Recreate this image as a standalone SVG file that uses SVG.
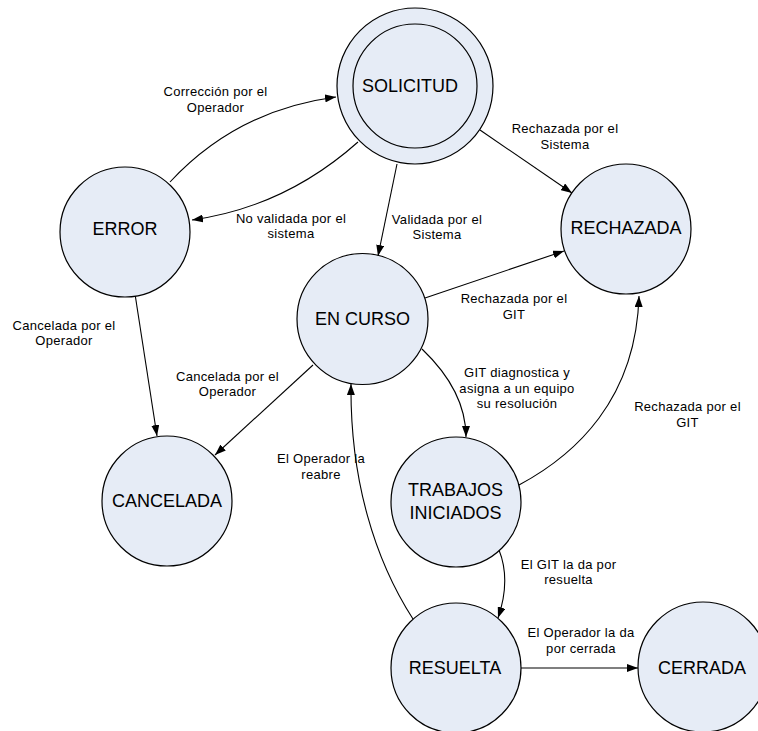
<svg xmlns="http://www.w3.org/2000/svg" width="758" height="731" viewBox="0 0 758 731">
  <defs>
    <marker id="arrow" markerWidth="11" markerHeight="8" refX="11" refY="4" orient="auto" markerUnits="userSpaceOnUse">
      <path d="M0,0 L11,4 L0,8 z" fill="#000"/>
    </marker>
    <style>
      .state { fill: #E6ECF6; stroke: #000; stroke-width: 1.2; }
      .name { font-family: "Liberation Sans", Arial, sans-serif; font-size: 18px; fill: #000; text-anchor: middle; }
      .lbl { font-family: "Liberation Sans", Arial, sans-serif; font-size: 13px; letter-spacing: 0.3px; fill: #000; text-anchor: middle; }
      .edge { fill: none; stroke: #000; stroke-width: 1.1; marker-end: url(#arrow); }
    </style>
  </defs>
  <rect width="758" height="731" fill="#fff"/>

  <!-- transitions -->
  <g id="connectors">
    <path class="edge" d="M170,182 Q237,110 336,97"/>
    <path class="edge" d="M358,142 Q285,207 192,220"/>
    <path class="edge" d="M397,164 L378,256"/>
    <path class="edge" d="M480,130 L572,193"/>
    <path class="edge" d="M425,298 L564,251"/>
    <path class="edge" d="M422,349 Q466,391 466,437"/>
    <path class="edge" d="M519,485 C575,455 636,400 639,296"/>
    <path class="edge" d="M313,365 L215,455"/>
    <path class="edge" d="M135,294 L157,436"/>
    <path class="edge" d="M413,619 C375,560 350,480 351,384"/>
    <path class="edge" d="M499,550 Q511,580 498,618"/>
    <path class="edge" d="M521,668 L638,668"/>

    <text class="lbl" x="215.5" y="96">Corrección por el</text>
    <text class="lbl" x="215.5" y="111.5">Operador</text>
    <text class="lbl" x="291" y="223">No validada por el</text>
    <text class="lbl" x="291" y="237.5">sistema</text>
    <text class="lbl" x="437" y="223.5">Validada por el</text>
    <text class="lbl" x="437" y="238.5">Sistema</text>
    <text class="lbl" x="565" y="133">Rechazada por el</text>
    <text class="lbl" x="565" y="149">Sistema</text>
    <text class="lbl" x="514" y="303">Rechazada por el</text>
    <text class="lbl" x="514" y="319">GIT</text>
    <text class="lbl" x="517" y="376.5">GIT diagnostica y</text>
    <text class="lbl" x="517" y="392.5">asigna a un equipo</text>
    <text class="lbl" x="517" y="408">su resolución</text>
    <text class="lbl" x="687.5" y="411">Rechazada por el</text>
    <text class="lbl" x="687.5" y="427">GIT</text>
    <text class="lbl" x="227.5" y="380.5">Cancelada por el</text>
    <text class="lbl" x="227.5" y="396">Operador</text>
    <text class="lbl" x="64" y="330">Cancelada por el</text>
    <text class="lbl" x="64" y="345">Operador</text>
    <text class="lbl" x="321" y="463">El Operador la</text>
    <text class="lbl" x="321" y="479">reabre</text>
    <text class="lbl" x="568.5" y="568.5">El GIT la da por</text>
    <text class="lbl" x="568.5" y="584">resuelta</text>
    <text class="lbl" x="581" y="637">El Operador la da</text>
    <text class="lbl" x="581" y="653">por cerrada</text>
  </g>

  <!-- states -->
  <g id="solicitud">
    <circle class="state" cx="415" cy="86" r="78"/>
    <circle class="state" cx="415" cy="86" r="62"/>
    <text class="name" x="410" y="92">SOLICITUD</text>
  </g>
  <g id="error">
    <circle class="state" cx="125" cy="232" r="65"/>
    <text class="name" x="125" y="235">ERROR</text>
  </g>
  <g id="rechazada">
    <circle class="state" cx="626" cy="229" r="65"/>
    <text class="name" x="626" y="234">RECHAZADA</text>
  </g>
  <g id="en-curso">
    <circle class="state" cx="362.5" cy="319" r="65.5"/>
    <text class="name" x="362.5" y="325">EN CURSO</text>
  </g>
  <g id="cancelada">
    <circle class="state" cx="167" cy="501" r="65"/>
    <text class="name" x="167" y="507">CANCELADA</text>
  </g>
  <g id="trabajos-iniciados">
    <circle class="state" cx="456" cy="502" r="65"/>
    <text class="name" x="455.5" y="496">TRABAJOS</text>
    <text class="name" x="455.5" y="518.5">INICIADOS</text>
  </g>
  <g id="resuelta">
    <circle class="state" cx="456" cy="668" r="65"/>
    <text class="name" x="455" y="674">RESUELTA</text>
  </g>
  <g id="cerrada">
    <circle class="state" cx="703" cy="667" r="65"/>
    <text class="name" x="702" y="674">CERRADA</text>
  </g>
</svg>
